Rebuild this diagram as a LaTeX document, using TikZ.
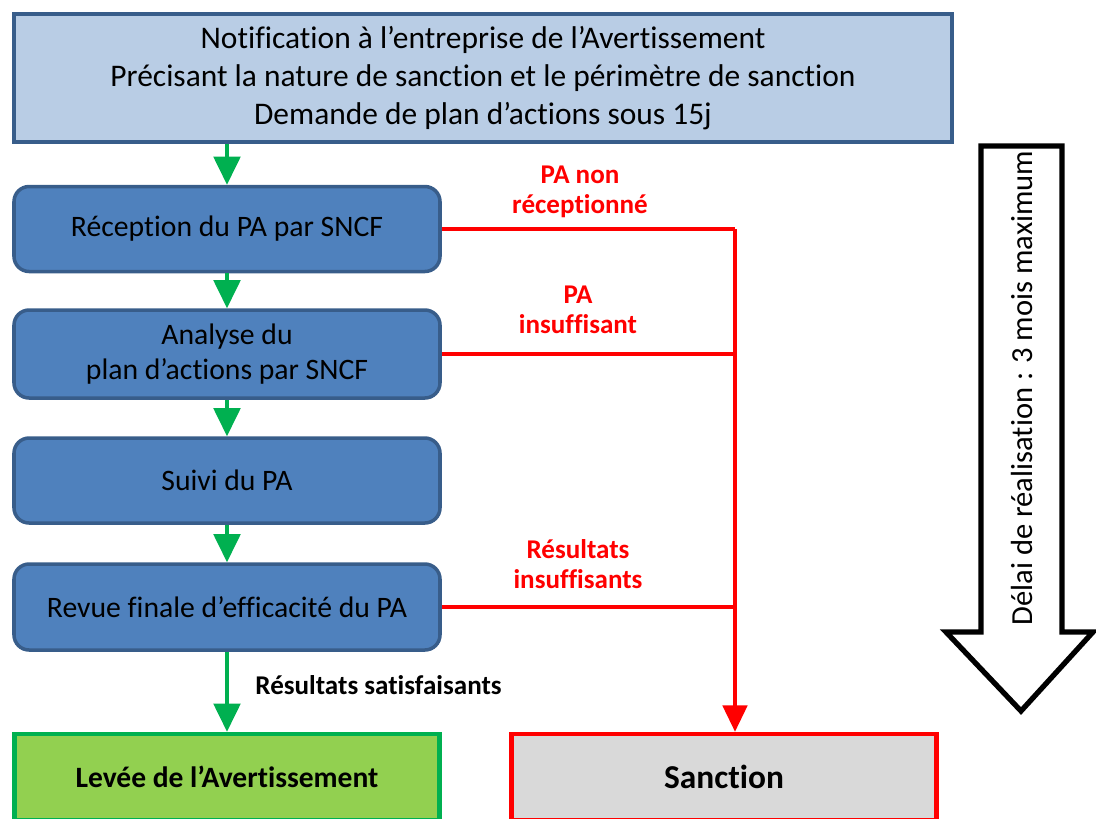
\documentclass[tikz,border=0pt]{standalone}
\usepackage{fontspec}
\setmainfont{Carlito}[Ligatures=NoCommon]
\usetikzlibrary{arrows.meta}
\newcommand{\RX}{735}
\definecolor{pabord}{RGB}{56,93,138}
\definecolor{panotif}{RGB}{185,205,229}
\definecolor{pastep}{RGB}{79,129,189}
\definecolor{pagreen}{RGB}{0,176,80}
\definecolor{palift}{RGB}{146,208,80}
\definecolor{pagrey}{RGB}{217,217,217}

\begin{document}
\begin{tikzpicture}[
    x=0.1mm, y=-0.1mm,
    gline/.style={draw=pagreen, line width=0.9pt, -{Triangle[length=8pt,width=7.6pt]}},
    rline/.style={draw=red, line width=0.9pt},
    rarrow/.style={rline, -{Triangle[length=7.5pt,width=7pt]}},
    notif/.style={rectangle, draw=pabord, fill=panotif, line width=1.2pt,
      minimum width=93.8mm, minimum height=12.8mm, align=center,
      font=\fontsize{8.95}{10.8}\selectfont},
    stepbox/.style={rectangle, rounded corners=4.3pt, draw=pabord, fill=pastep, line width=1pt,
      minimum width=42.6mm, minimum height=8.6mm, align=center,
      font=\fontsize{8.45}{9.9}\selectfont},
    endbox/.style={rectangle, line width=1.3pt, minimum width=42.5mm, minimum height=8.6mm,
      font=\bfseries\fontsize{8.4}{10}\selectfont},
    rtag/.style={text=red, align=center, font=\bfseries\fontsize{7.7}{8.6}\selectfont},
  ]
  \useasboundingbox (0,0) rectangle (1096,818);
  \clip (0,0) rectangle (1096,818);

  %% ================= the notification and the steps =================
  \node[notif] (notif) at (483,78)
    {Notification à l’entreprise de l’Avertissement\\
     Précisant la nature de sanction et le périmètre de sanction\\
     Demande de plan d’actions sous 15j};

  \node[stepbox, minimum height=8.5mm] (recep) at (227,229) {Réception du PA par SNCF};
  \node[stepbox, minimum height=8.8mm] (analyse) at (227,354) {Analyse du\\plan d’actions par SNCF};
  \node[stepbox, minimum height=8.5mm] (suivi) at (227,480.5) {Suivi du PA};
  \node[stepbox] (revue) at (227,607) {Revue finale d’efficacité du PA};

  %% ================= the two outcomes =================
  \node[endbox, draw=pagreen, fill=palift] (levee) at (227,777) {Levée de l’Avertissement};
  \node[endbox, draw=red, fill=pagrey, font=\bfseries\fontsize{9.5}{11}\selectfont] (sanction) at (724,777) {Sanction};

  %% ================= green path =================
  \draw[gline] (notif.south -| recep) -- (recep.north);
  \draw[gline] (recep) -- (analyse);
  \draw[gline] (analyse) -- (suivi);
  \draw[gline] (suivi) -- (revue);
  \draw[gline] (revue) -- (levee);
  \node[anchor=west, font=\bfseries\fontsize{7.7}{9}\selectfont] (satis) at (243,685) {Résultats satisfaisants};

  %% ================= red path =================
  \coordinate (rtop) at (\RX,232);
  \draw[rline] (recep.east) -- (recep.east -| rtop);
  \draw[rline] (analyse.east) -- (analyse.east -| rtop);
  \draw[rline] (revue.east) -- (revue.east -| rtop);
  \draw[rarrow] (recep.east -| rtop) -- (sanction.north -| rtop);

  \node[rtag] (nonrecu) at (580,192) {PA non\\réceptionné};
  \node[rtag] (insuf) at (578,310) {PA\\insuffisant};
  \node[rtag] (resinsuf) at (578,564) {Résultats\\insuffisants};

  %% ================= time arrow =================
  \draw[black, fill=white, line width=1.5pt, line join=miter]
    (981,146) -- (1062,146) -- (1062,632) -- (1093,632) -- (1021,711)
    -- (946,632) -- (981,632) -- cycle;
  \node[rotate=90, font=\fontsize{8.7}{10}\selectfont] (delai) at (1022,388)
    {Délai de réalisation : 3 mois maximum};

\end{tikzpicture}
\end{document}
